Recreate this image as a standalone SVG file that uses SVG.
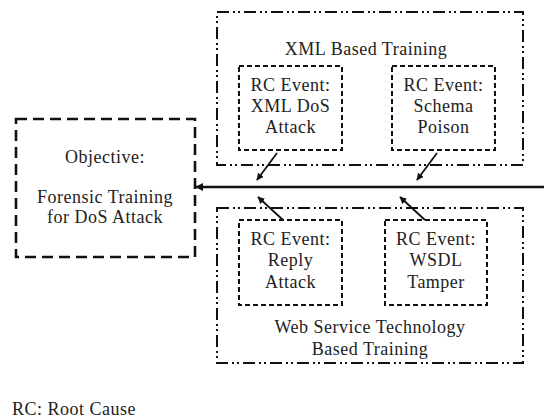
<svg xmlns="http://www.w3.org/2000/svg" width="544" height="418" viewBox="0 0 544 418">
<defs>
<style>
text{font-family:"Liberation Serif","Times New Roman",serif;font-size:18px;letter-spacing:0.5px;fill:#222;text-anchor:middle}
.grp{fill:none;stroke:#111;stroke-width:2;stroke-dasharray:12 4 2 3 2 4}
.evt{fill:none;stroke:#111;stroke-width:2;stroke-dasharray:5 3}
.obj{fill:none;stroke:#111;stroke-width:2.6;stroke-dasharray:11 6}
.conn{stroke:#111;stroke-width:1.8;fill:none}
</style>
<marker id="ah" viewBox="0 0 10 10" refX="9" refY="5" markerWidth="4" markerHeight="4" orient="auto" markerUnits="strokeWidth">
<path d="M0,0 L10,5 L0,10 z" fill="#111"/>
</marker>
<marker id="ahm" viewBox="0 0 10 10" refX="9" refY="5" markerWidth="3.2" markerHeight="3.2" orient="auto" markerUnits="strokeWidth">
<path d="M0,0 L10,5 L0,10 z" fill="#111"/>
</marker>
</defs>
<rect width="544" height="418" fill="#fff"/>
<g id="objective">
<rect class="obj" x="16" y="119" width="179" height="138"/>
<text x="105" y="163">Objective:</text>
<text x="105" y="203">Forensic Training</text>
<text x="105" y="223">for DoS Attack</text>
</g>
<g id="xml-group">
<rect class="grp" x="217" y="12" width="306" height="153"/>
<text x="366" y="55">XML Based Training</text>
</g>
<g id="ws-group">
<rect class="grp" x="217" y="208" width="306" height="155"/>
<text x="370" y="333">Web Service Technology</text>
<text x="370" y="355">Based Training</text>
</g>
<g id="xml-dos">
<rect class="evt" x="239" y="66" width="103" height="84"/>
<text x="290.5" y="91">RC Event:</text>
<text x="290.5" y="112">XML DoS</text>
<text x="290.5" y="133">Attack</text>
</g>
<g id="schema-poison">
<rect class="evt" x="392" y="66" width="103" height="84"/>
<text x="443.5" y="91">RC Event:</text>
<text x="443.5" y="112">Schema</text>
<text x="443.5" y="133">Poison</text>
</g>
<g id="reply-attack">
<rect class="evt" x="239" y="220" width="103" height="85"/>
<text x="290.5" y="245">RC Event:</text>
<text x="290.5" y="266">Reply</text>
<text x="290.5" y="288">Attack</text>
</g>
<g id="wsdl-tamper">
<rect class="evt" x="385" y="220" width="102" height="85"/>
<text x="436" y="245">RC Event:</text>
<text x="436" y="266">WSDL</text>
<text x="436" y="288">Tamper</text>
</g>
<g id="connectors">
<line x1="544" y1="187" x2="196" y2="187" stroke="#111" stroke-width="2.6" marker-end="url(#ahm)"/>
<line class="conn" x1="277" y1="153" x2="257" y2="180" marker-end="url(#ah)"/>
<line class="conn" x1="437" y1="153" x2="417" y2="180" marker-end="url(#ah)"/>
<line class="conn" x1="283" y1="220" x2="258" y2="197" marker-end="url(#ah)"/>
<line class="conn" x1="425" y1="220" x2="400" y2="197" marker-end="url(#ah)"/>
</g>
<g id="legend">
<text x="12" y="415" style="text-anchor:start">RC: Root Cause</text>
</g>
</svg>
